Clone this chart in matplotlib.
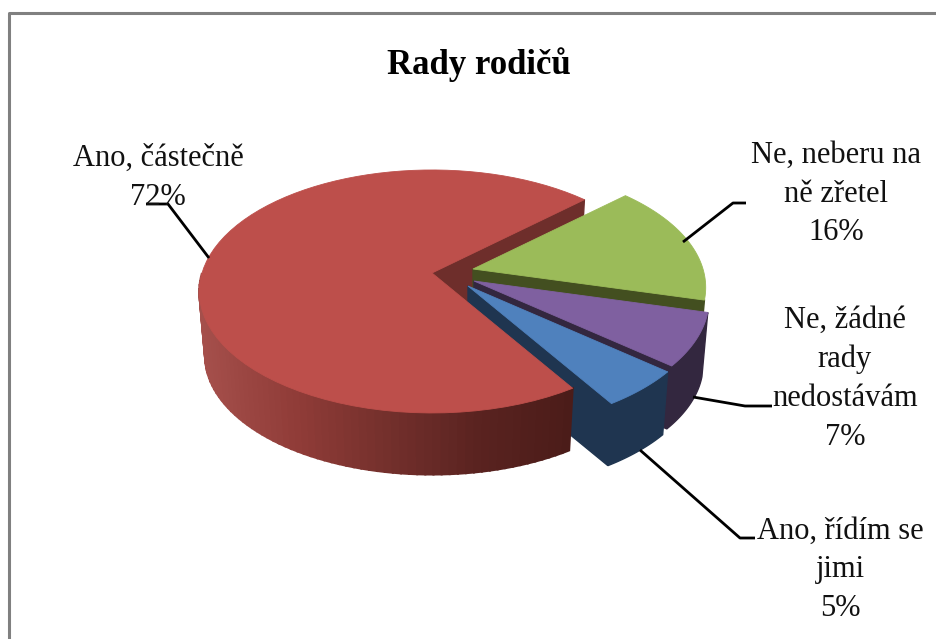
import numpy as np
from matplotlib import pyplot as plt
from matplotlib.patches import Polygon

categories = ['Ano, řídím se\njimi', 'Ano, částečně', 'Ne, neberu na\nně zřetel', 'Ne, žádné\nrady\nnedostávám']
values = [5, 72, 16, 7]
colors_top = ['#4f81bd', '#bd4f4b', '#9bbb59', '#7f60a0']
colors_wall = ['#1f3550', '#6e2e2b', '#434f20', '#33273f']

RX, RY, K = 230, 118.7, 0.152
DEPTH, SHRINK = 65, 0.975
RED_END = 43.0

apex = {0: (468, 286), 1: (432, 273), 2: (473, 269), 3: (474, 281)}
scale = {0: 1.02, 1: 1.0, 2: 1.0, 3: 1.01}
label_pos = {0: (840, 570), 1: (158, 178), 2: (836, 194), 3: (845, 379)}
leaders = {
    0: [(640, 450), (740, 538), (755, 538)],
    1: [(209, 258), (168, 204), (146, 204)],
    2: [(683, 242), (733, 203), (746, 203)],
    3: [(693, 397), (745, 406), (772, 406)],
}


def project(theta, i, bottom=False):
    cx, cy = apex[i]
    t = np.radians(theta)
    w = 1 + K * np.sin(t)
    dx = scale[i] * RX * np.cos(t) / w
    dy = -scale[i] * RY * np.sin(t) / w
    if bottom:
        return cx + dx * SHRINK, cy + dy * SHRINK + DEPTH
    return cx + dx, cy + dy


def arc(t1, t2, i, bottom=False):
    ts = np.linspace(t1, t2, 80)
    return np.column_stack(project(ts, i, bottom))


def fill(ax, pts, color, z, lw=0.6):
    ax.add_patch(Polygon(pts, closed=True, fc=color, ec=color, lw=lw, zorder=z))


def edge_wall(ax, theta, i, z):
    cx, cy = apex[i]
    fill(ax, [(cx, cy), project(theta, i), project(theta, i, True), (cx, cy + DEPTH)], colors_wall[i], z, 1)


def round_wall(ax, t1, t2, i, z):
    fill(ax, np.vstack([arc(t1, t2, i), arc(t2, t1, i, True)]), colors_wall[i], z, 1)


def top(ax, t1, t2, i, z):
    fill(ax, np.vstack([[apex[i]], arc(t1, t2, i)]), colors_top[i], z)


fig = plt.figure(figsize=(9.36, 6.39), dpi=100)
ax = fig.add_axes([0, 0, 1, 1])
ax.set_xlim(0, 936)
ax.set_ylim(639, 0)
ax.axis('off')
plt.rcParams['font.family'] = ['Liberation Serif', 'DejaVu Sans']

# slice angles, clockwise, big slice ends at RED_END
sweep = [v / sum(values) * 360 for v in values]
red_start = RED_END + sweep[1]
green_end = RED_END - sweep[2]
purple_end = green_end - sweep[3]
blue_end = purple_end - sweep[0]

# notch wall behind the small slices
edge_wall(ax, RED_END, 1, 1)

edge_wall(ax, green_end, 2, 2)
top(ax, RED_END, green_end, 2, 3)

edge_wall(ax, purple_end, 3, 4)
round_wall(ax, green_end, purple_end, 3, 4)
top(ax, green_end, purple_end, 3, 5)

edge_wall(ax, blue_end, 0, 6)
round_wall(ax, purple_end, blue_end, 0, 6)
top(ax, purple_end, blue_end, 0, 7)

# big slice outer wall, shaded left to right
ts = np.linspace(180, red_start, 70)
shade_x = [199, 300, 400, 480, 572]
shade_rgb = np.array([(166, 80, 76), (143, 59, 55), (112, 46, 43), (90, 35, 32), (75, 28, 25)]) / 255
for a, b in zip(ts[:-1], ts[1:]):
    upper = arc(a, b, 1)
    lower = arc(b, a, 1, True)
    xm = upper[:, 0].mean()
    col = [np.interp(xm, shade_x, shade_rgb[:, i]) for i in range(3)]
    fill(ax, np.vstack([upper, lower]), col, 8, 1.5)
top(ax, red_start, RED_END, 1, 9)

# leader lines and labels
for i, name in enumerate(categories):
    xs, ys = zip(*leaders[i])
    ax.plot(xs, ys, color='black', lw=2, zorder=10, solid_capstyle='butt')
    ax.text(*label_pos[i], f'{name}\n{values[i]}%', ha='center', va='center', ma='center',
            fontsize=22, linespacing=1.45, color='#111111', zorder=11)

ax.text(479, 65, 'Rady rodičů', ha='center', va='center', fontsize=25, fontweight='bold', color='black')

# chart frame, only top and left show in the crop
ax.plot([8.5, 8.5, 936], [639, 12.5, 12.5], color='#808080', lw=2.2, zorder=0)

plt.savefig('out.png', dpi=100)
